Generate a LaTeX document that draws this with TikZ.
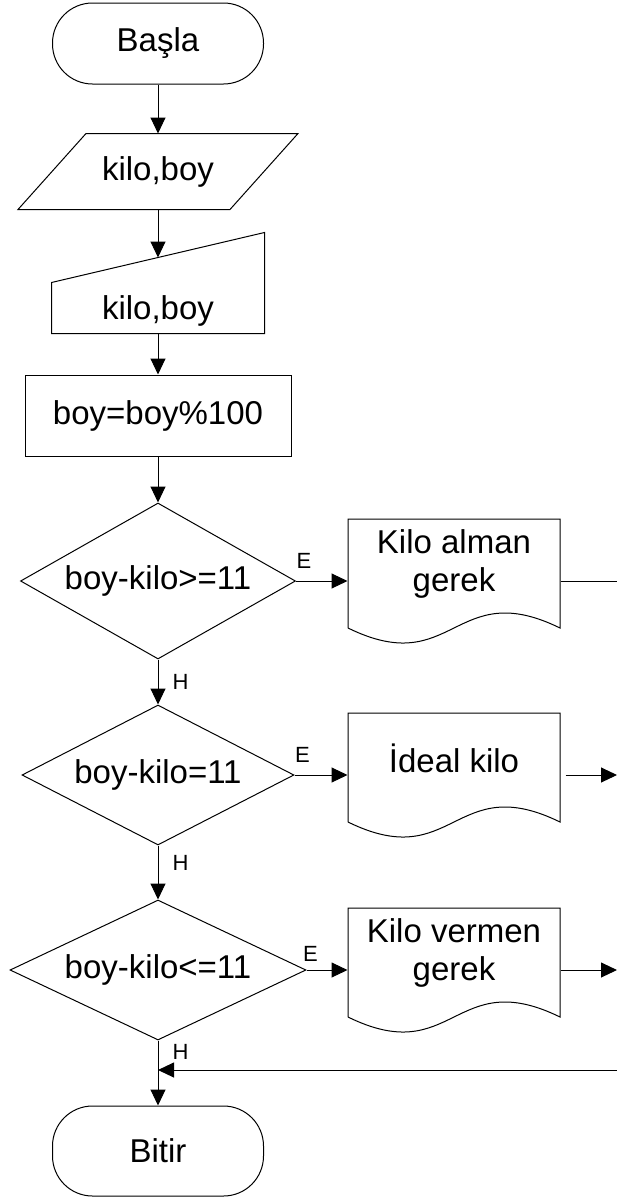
\documentclass[tikz,border=0pt]{standalone}
\usepackage{fontspec}
\setmainfont{Liberation Sans}
\usetikzlibrary{shapes.geometric, arrows.meta, positioning, calc}

\begin{document}
\begin{tikzpicture}[
    x=1pt, y=-1pt, line width=1pt,
    every node/.style={font=\fontsize{33}{38}\selectfont, inner sep=0pt},
    terminal/.style={rectangle, rounded corners=40pt, draw, minimum width=211pt, align=center},
    giriskutu/.style={minimum width=211pt, minimum height=75pt},
    okumakutu/.style={minimum width=212pt, minimum height=75pt, text height=47pt, text depth=0pt},
    islem/.style={rectangle, draw, minimum width=266pt, minimum height=81pt},
    karar/.style={diamond, draw},
    belge/.style={minimum width=212pt, align=center},
    etiket/.style={font=\fontsize{22}{26}\selectfont},
    ok/.style={-{Triangle[length=16pt, width=15pt]}},
]
\useasboundingbox (0,0) rectangle (617,1197);

% ana akis
\node[terminal, minimum height=81pt] (basla) at (158,43.5) {Başla};
\node[giriskutu] (giris) at (158,171.5) {kilo,boy};
\node[okumakutu] (okuma) at (158,295.5) {kilo,boy};
\node[islem] (hesap) at (158,415.5) {boy=boy\%100};
\node[karar, aspect=1.76, minimum width=275pt, minimum height=156pt] (karar1) at (158,581) {boy-kilo>=11};
\node[karar, aspect=1.94, minimum width=272pt, minimum height=140pt] (karar2) at (158,775) {boy-kilo=11};
\node[karar, aspect=2.11, minimum width=296pt, minimum height=140pt] (karar3) at (158,970) {boy-kilo<=11};
\node[terminal, minimum height=90pt] (bitir) at (158,1151) {Bitir};

% ciktilar
\node[belge] (belge1) at (454,564) {Kilo alman\\gerek};
\node[belge] (belge2) at (454,758) {İdeal kilo};
\node[belge] (belge3) at (454,953) {Kilo vermen\\gerek};

\coordinate (sag1) at (617,581);
\coordinate (sag2) at (617,775);
\coordinate (sag3) at (617,970);
\coordinate (donus) at (617,1070);

% sekiller
\draw ($(giris.north west)+(34,0)$) -- ($(giris.north east)+(34,0)$)
      -- ($(giris.south east)+(-34,0)$) -- ($(giris.south west)+(-34,0)$) -- cycle;
\draw (okuma.south west) -- ($(okuma.north west)+(0,25)$)
      -- ($(okuma.north east)+(0,-25)$) -- (okuma.south east) -- cycle;
\foreach \b in {belge1,belge2,belge3} {
  \draw ($(\b.center)+(-106,64)$) -- ($(\b.center)+(-106,-45)$)
        -- ($(\b.center)+(106,-45)$) -- ($(\b.center)+(106,64)$)
        .. controls ($(\b.center)+(0,12)$) and ($(\b.center)+(0,116)$) .. ($(\b.center)+(-106,64)$);
}

% baglantilar
\draw[ok] (basla) -- (giris);
\draw[ok] (giris) -- (okuma);
\draw[ok] (okuma) -- (hesap);
\draw[ok] (hesap) -- (karar1);
\draw[ok] (karar1) -- node[etiket, right, xshift=14pt] {H} (karar2);
\draw[ok] (karar2) -- node[etiket, right, pos=0.33, xshift=14pt] {H} (karar3);
\draw[ok] (karar3) -- node[etiket, right, pos=0.18, xshift=14pt] {H} (bitir);

\draw[ok] (karar1.east) -- node[etiket, pos=0, anchor=south west, yshift=12pt] {E} (karar1 -| belge1.west);
\draw[ok] (karar2.east) -- node[etiket, pos=0, anchor=south west, yshift=12pt] {E} (karar2 -| belge2.west);
\draw[ok] (karar3.east) -- node[etiket, pos=0, anchor=south west, xshift=-4pt, yshift=8pt] {E} (karar3 -| belge3.west);

\draw (karar1 -| belge1.east) -- (sag1);
\draw[ok, shorten <=5pt] (karar2 -| belge2.east) -- (sag2);
\draw[ok] (karar3 -| belge3.east) -- (sag3);
\draw[ok] (donus) -- (donus -| bitir.north);

\end{tikzpicture}
\end{document}
